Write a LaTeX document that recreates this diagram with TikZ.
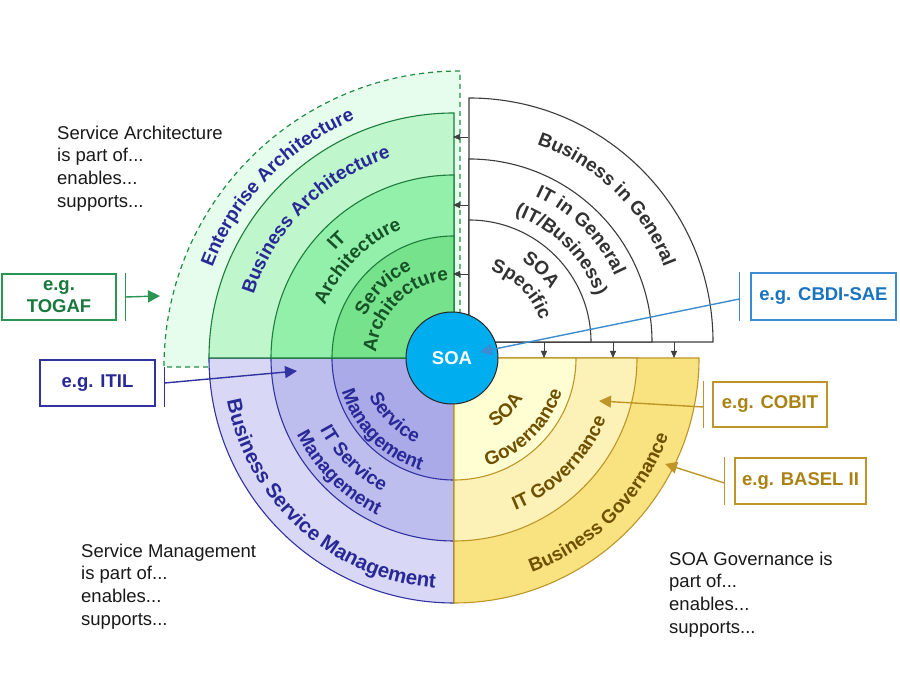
\documentclass[tikz,border=0pt]{standalone}
\usepackage{fontspec}
\setmainfont{Liberation Sans}
\usepackage{tikz}
\usetikzlibrary{arrows.meta, positioning, decorations.text}
\definecolor{entfill}{RGB}{230,252,236}
\definecolor{entline}{RGB}{34,140,70}
\definecolor{bafill}{RGB}{192,246,204}
\definecolor{itafill}{RGB}{146,240,170}
\definecolor{safill}{RGB}{118,226,140}
\definecolor{greenline}{RGB}{30,125,60}
\definecolor{greentext}{RGB}{22,82,38}
\definecolor{bluetext}{RGB}{40,40,150}
\definecolor{bsmfill}{RGB}{216,216,246}
\definecolor{itsmfill}{RGB}{190,190,238}
\definecolor{smfill}{RGB}{170,170,232}
\definecolor{blueline}{RGB}{50,50,160}
\definecolor{sogfill}{RGB}{255,253,210}
\definecolor{itgfill}{RGB}{252,241,182}
\definecolor{bgfill}{RGB}{248,227,128}
\definecolor{goldline}{RGB}{190,150,40}
\definecolor{goldtext}{RGB}{110,80,0}
\definecolor{goldbox}{RGB}{170,130,20}
\definecolor{grayline}{RGB}{60,60,60}
\definecolor{graytext}{RGB}{50,50,50}
\definecolor{soafill}{RGB}{0,174,239}
\definecolor{cbdiline}{RGB}{60,140,210}
\definecolor{cbditext}{RGB}{25,115,190}
\definecolor{togafline}{RGB}{40,150,80}
\definecolor{togaftext}{RGB}{25,120,60}
\newcommand{\ringfont}{\fontsize{19}{22}\selectfont\bfseries}
\newcommand{\bigringfont}{\fontsize{20.5}{24}\selectfont\bfseries}
\newcommand{\notefont}{\fontsize{18.5}{22.7}\selectfont}
\newcommand{\boxfont}{\fontsize{18.5}{22}\selectfont\bfseries}
% text bent along a quarter ring: centre, radius, start, end, colour, text
\newcommand{\ringtext}[6]{%
  \path[decorate, decoration={text along path, text align=center,
    text={|\ringfont\color{#5}|#6}}]
    (#1) ++(#3:#2) arc[start angle=#3, end angle=#4, radius=#2];}

\begin{document}
\begin{tikzpicture}[x=1pt, y=1pt, >=Stealth]
  \tikzset{
    ring/.style={draw=#1, line width=1.1pt},
    egbox/.style={draw=#1, line width=1.3pt, fill=white, font=\boxfont, align=center, inner sep=0pt},
    bar/.style={draw=#1, line width=1.3pt},
    callout/.style={draw=#1, line width=1.4pt, -{Triangle[length=12pt, width=12pt]}},
    tick/.style={draw=black!75, line width=0.8pt, -{Triangle[length=7pt, width=6pt]}},
    note/.style={font=\notefont, align=left, anchor=north west, inner sep=0pt, text=black!90}
  }
  \useasboundingbox (0,0) rectangle (900,700);
  \fill[white] (0,0) rectangle (900,700);

  \coordinate (C) at (454,342);
  \coordinate (W) at (469,358);
  \coordinate (E) at (460,333);

  % example boxes and their bars
  \node [egbox=togafline, text=togaftext, minimum width=114, minimum height=46] (togaf) at (59,403) {e.g.\\TOGAF};
  \node [egbox=blueline, text=bluetext, minimum width=115, minimum height=46] (itil) at (97.5,317) {e.g. ITIL};
  \node [egbox=cbdiline, text=cbditext, minimum width=145, minimum height=47] (cbdi) at (823.5,403.5) {e.g. CBDI-SAE};
  \node [egbox=goldline, text=goldbox, minimum width=114, minimum height=45] (cobit) at (770,295.5) {e.g. COBIT};
  \node [egbox=goldline, text=goldbox, minimum width=131, minimum height=46] (basel) at (800.5,219) {e.g. BASEL II};

  \coordinate [right=9pt of togaf.east] (togafbar);
  \coordinate [right=9pt of itil.east] (itilbar);
  \coordinate [left=11pt of cbdi.west] (cbdibar);
  \coordinate [left=9pt of cobit.west] (cobitbar);
  \coordinate [left=10pt of basel.west] (baselbar);
  \draw[bar=togafline] (togafbar |- togaf.north) -- (togafbar |- togaf.south);
  \draw[bar=blueline] (itilbar |- itil.north) -- (itilbar |- itil.south);
  \draw[bar=cbdiline] (cbdibar |- cbdi.north) -- (cbdibar |- cbdi.south);
  \draw[bar=goldline] (cobitbar |- cobit.north) -- (cobitbar |- cobit.south);
  \draw[bar=goldline] (baselbar |- basel.north) -- (baselbar |- basel.south);

  % enterprise architecture
  \draw[draw=entline, line width=1.2pt, dash pattern=on 5pt off 4pt, fill=entfill]
    (E) -- ++(180:296) arc[start angle=180, end angle=90, radius=296] -- cycle;

  % quarter rings
  \foreach \r/\c in {245/bsmfill, 183/itsmfill, 122/smfill}
    \draw[ring=blueline, fill=\c] (C) -- ++(180:\r) arc[start angle=180, end angle=270, radius=\r] -- cycle;
  \foreach \r/\c in {245/bafill, 183/itafill, 122/safill}
    \draw[ring=greenline, fill=\c] (C) -- ++(180:\r) arc[start angle=180, end angle=90, radius=\r] -- cycle;
  \foreach \r/\c in {245/bgfill, 183/itgfill, 122/sogfill}
    \draw[ring=goldline, fill=\c] (C) -- ++(270:\r) arc[start angle=270, end angle=360, radius=\r] -- cycle;
  \foreach \r in {244, 183, 122}
    \draw[ring=grayline, fill=white] (W) -- ++(0:\r) arc[start angle=0, end angle=90, radius=\r] -- cycle;

  % ring labels
  \ringtext{C}{258}{182}{90}{bluetext}{Enterprise Architecture}
  \ringtext{C}{210}{180}{90}{bluetext}{Business Architecture}
  \ringtext{C}{160}{180}{90}{greentext}{IT}
  \ringtext{C}{139}{180}{90}{greentext}{Architecture}
  \ringtext{C}{98}{180}{90}{greentext}{Service}
  \ringtext{C}{78}{180}{90}{greentext}{Architecture}

  \ringtext{W}{209}{92}{0}{graytext}{Business in General}
  \ringtext{W}{160}{90}{0}{graytext}{IT in General}
  \ringtext{W}{135}{90}{0}{graytext}{(IT/Business)}
  \ringtext{W}{97}{90}{0}{graytext}{SOA}
  \ringtext{W}{74}{90}{0}{graytext}{Specific}

  \path[decorate, decoration={text along path, text align=center,
    text={|\bigringfont\color{bluetext}|Business Service Management}}]
    (C) ++(183:231) arc[start angle=183, end angle=273, radius=231];
  \ringtext{C}{152}{180}{270}{bluetext}{IT Service}
  \ringtext{C}{175}{180}{270}{bluetext}{Management}
  \ringtext{C}{93}{180}{270}{bluetext}{Service}
  \ringtext{C}{117}{180}{270}{bluetext}{Management}

  \ringtext{C}{228}{270}{360}{goldtext}{Business Governance}
  \ringtext{C}{164}{270}{360}{goldtext}{IT Governance}
  \ringtext{C}{80}{270}{360}{goldtext}{SOA}
  \ringtext{C}{113}{270}{360}{goldtext}{Governance}

  % links between the quadrants
  \foreach \y [count=\i] in {563,495,426} {
    \coordinate (wl\i) at (468,\y);
    \coordinate (gr\i) at (453,\y);
    \draw[tick] (wl\i) -- (gr\i);
  }
  \foreach \x [count=\i] in {544,613,674} {
    \coordinate (wb\i) at (\x,358);
    \coordinate (yt\i) at (\x,342);
    \draw[tick] (wb\i) -- (yt\i);
  }

  \node [circle, draw=black!85, line width=1pt, fill=soafill, minimum size=92, inner sep=0pt,
    text=white, font=\boxfont] (soa) at (452,342) {SOA};

  % callouts
  \coordinate (togaftip) at (160,404);
  \coordinate (itiltip) at (297,329);
  \coordinate (cbditip) at (480,348);
  \coordinate (cobittip) at (599,299);
  \coordinate (baseltip) at (665,236);
  \draw[callout=togafline] (togafbar) -- (togaftip);
  \draw[callout=blueline] (itilbar) -- (itiltip);
  \draw[callout=cbdiline] (cbdibar |- 0,401) -- (cbditip);
  \draw[callout=goldline] (cobitbar |- 0,293) -- (cobittip);
  \draw[callout=goldline] (baselbar |- 0,217) -- (baseltip);

  % notes
  \node [note] (archnote) at (57,574.5) {Service Architecture\\is part of...\\enables...\\supports...};
  \node [note] (mgmtnote) at (81,156.5) {Service Management\\is part of...\\enables...\\supports...};
  \node [note] (govnote) at (669,148.5) {SOA Governance is\\part of...\\enables...\\supports...};
\end{tikzpicture}
\end{document}
